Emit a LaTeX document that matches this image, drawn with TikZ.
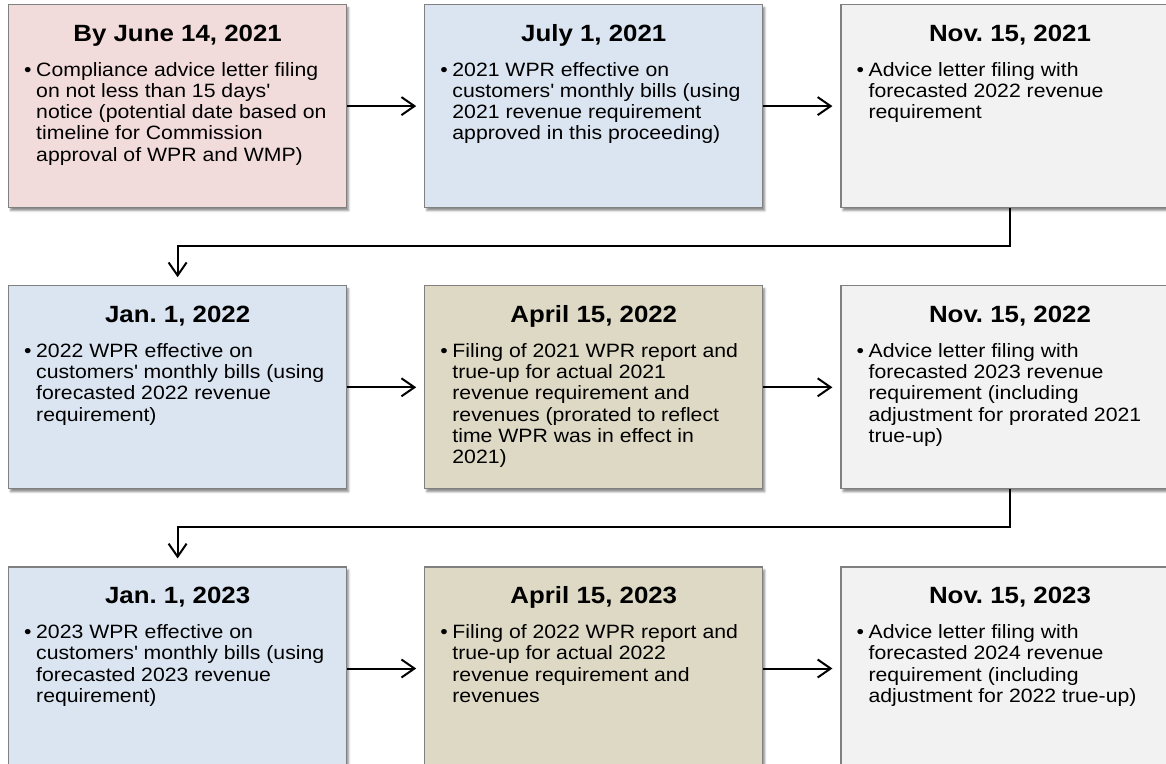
\documentclass[tikz,border=0pt]{standalone}
\usepackage{fontspec}
\setmainfont{Liberation Sans}[FakeStretch=1.1]
\usepackage{tikz}
\usepackage{xcolor}
\usetikzlibrary{positioning, arrows.meta, shadows.blur}
\frenchspacing

\definecolor{pinkbox}{HTML}{F2DCDB}
\definecolor{bluebox}{HTML}{DBE5F1}
\definecolor{tanbox}{HTML}{DDD9C4}
\definecolor{greybox}{HTML}{F2F2F2}

\begin{document}
\begin{tikzpicture}[
  x=1pt, y=1pt,
  node distance=77pt,
  box/.style={rectangle, draw=black!50, line width=1.2pt, minimum width=338pt, minimum height=203pt, inner sep=0pt,
    blur shadow={shadow xshift=2pt, shadow yshift=-3pt, shadow blur radius=2pt, shadow opacity=45}},
  title/.style={anchor=base, inner sep=0pt, font=\fontsize{23.5pt}{26pt}\selectfont\bfseries},
  body/.style={anchor=base west, inner sep=0pt, font=\fontsize{19.3pt}{21.3pt}\selectfont},
  arrow/.style={draw=black, line width=2pt, -{Straight Barb[length=13pt, width=18pt]}, shorten >=8pt},
  link/.style={draw=black, line width=2pt, -{Straight Barb[length=13pt, width=18pt]}, shorten >=8pt}
]
  \clip (0,0) rectangle (1166,-763);

  % first row
  \node [box, fill=pinkbox, anchor=north west] (jun21) at (8,-4) {};
  \node [box, fill=bluebox, right=of jun21] (jul21) {};
  \node [box, fill=greybox, right=of jul21] (nov21) {};

  % second row
  \node [box, fill=bluebox, below=of jun21] (jan22) {};
  \node [box, fill=tanbox, right=of jan22] (apr22) {};
  \node [box, fill=greybox, right=of apr22] (nov22) {};

  % third row
  \node [box, fill=bluebox, below=of jan22] (jan23) {};
  \node [box, fill=tanbox, right=of jan23] (apr23) {};
  \node [box, fill=greybox, right=of apr23] (nov23) {};

  \node [title] (jun21t) at ([yshift=-37pt]jun21.north) {By June 14, 2021};
  \node [body] (jun21b) at ([xshift=16pt, yshift=-72pt]jun21.north west) {\begin{tabular}[t]{@{}l@{}l@{}}
    \makebox[12pt][l]{\textbullet} & Compliance advice letter filing\\
    & on not less than 15 days\textquotesingle\\
    & notice (potential date based on\\
    & timeline for Commission\\
    & approval of WPR and WMP)\end{tabular}};

  \node [title] (jul21t) at ([yshift=-37pt]jul21.north) {July 1, 2021};
  \node [body] (jul21b) at ([xshift=16pt, yshift=-72pt]jul21.north west) {\begin{tabular}[t]{@{}l@{}l@{}}
    \makebox[12pt][l]{\textbullet} & 2021 WPR effective on\\
    & customers\textquotesingle{} monthly bills (using\\
    & 2021 revenue requirement\\
    & approved in this proceeding)\end{tabular}};

  \node [title] (nov21t) at ([yshift=-37pt]nov21.north) {Nov. 15, 2021};
  \node [body] (nov21b) at ([xshift=16pt, yshift=-72pt]nov21.north west) {\begin{tabular}[t]{@{}l@{}l@{}}
    \makebox[12pt][l]{\textbullet} & Advice letter filing with\\
    & forecasted 2022 revenue\\
    & requirement\end{tabular}};

  \node [title] (jan22t) at ([yshift=-37pt]jan22.north) {Jan. 1, 2022};
  \node [body] (jan22b) at ([xshift=16pt, yshift=-72pt]jan22.north west) {\begin{tabular}[t]{@{}l@{}l@{}}
    \makebox[12pt][l]{\textbullet} & 2022 WPR effective on\\
    & customers\textquotesingle{} monthly bills (using\\
    & forecasted 2022 revenue\\
    & requirement)\end{tabular}};

  \node [title] (apr22t) at ([yshift=-37pt]apr22.north) {April 15, 2022};
  \node [body] (apr22b) at ([xshift=16pt, yshift=-72pt]apr22.north west) {\begin{tabular}[t]{@{}l@{}l@{}}
    \makebox[12pt][l]{\textbullet} & Filing of 2021 WPR report and\\
    & true-up for actual 2021\\
    & revenue requirement and\\
    & revenues (prorated to reflect\\
    & time WPR was in effect in\\
    & 2021)\end{tabular}};

  \node [title] (nov22t) at ([yshift=-37pt]nov22.north) {Nov. 15, 2022};
  \node [body] (nov22b) at ([xshift=16pt, yshift=-72pt]nov22.north west) {\begin{tabular}[t]{@{}l@{}l@{}}
    \makebox[12pt][l]{\textbullet} & Advice letter filing with\\
    & forecasted 2023 revenue\\
    & requirement (including\\
    & adjustment for prorated 2021\\
    & true-up)\end{tabular}};

  \node [title] (jan23t) at ([yshift=-37pt]jan23.north) {Jan. 1, 2023};
  \node [body] (jan23b) at ([xshift=16pt, yshift=-72pt]jan23.north west) {\begin{tabular}[t]{@{}l@{}l@{}}
    \makebox[12pt][l]{\textbullet} & 2023 WPR effective on\\
    & customers\textquotesingle{} monthly bills (using\\
    & forecasted 2023 revenue\\
    & requirement)\end{tabular}};

  \node [title] (apr23t) at ([yshift=-37pt]apr23.north) {April 15, 2023};
  \node [body] (apr23b) at ([xshift=16pt, yshift=-72pt]apr23.north west) {\begin{tabular}[t]{@{}l@{}l@{}}
    \makebox[12pt][l]{\textbullet} & Filing of 2022 WPR report and\\
    & true-up for actual 2022\\
    & revenue requirement and\\
    & revenues\end{tabular}};

  \node [title] (nov23t) at ([yshift=-37pt]nov23.north) {Nov. 15, 2023};
  \node [body] (nov23b) at ([xshift=16pt, yshift=-72pt]nov23.north west) {\begin{tabular}[t]{@{}l@{}l@{}}
    \makebox[12pt][l]{\textbullet} & Advice letter filing with\\
    & forecasted 2024 revenue\\
    & requirement (including\\
    & adjustment for 2022 true-up)\end{tabular}};

  % arrows along each row
  \draw [arrow] (jun21) -- (jul21);
  \draw [arrow] (jul21) -- (nov21);
  \draw [arrow] (jan22) -- (apr22);
  \draw [arrow] (apr22) -- (nov22);
  \draw [arrow] (jan23) -- (apr23);
  \draw [arrow] (apr23) -- (nov23);

  % from the end of a row to the start of the next
  \draw [link] (nov21.south) -- ++(0,-38) -| (jan22.north);
  \draw [link] (nov22.south) -- ++(0,-38) -| (jan23.north);
\end{tikzpicture}
\end{document}
